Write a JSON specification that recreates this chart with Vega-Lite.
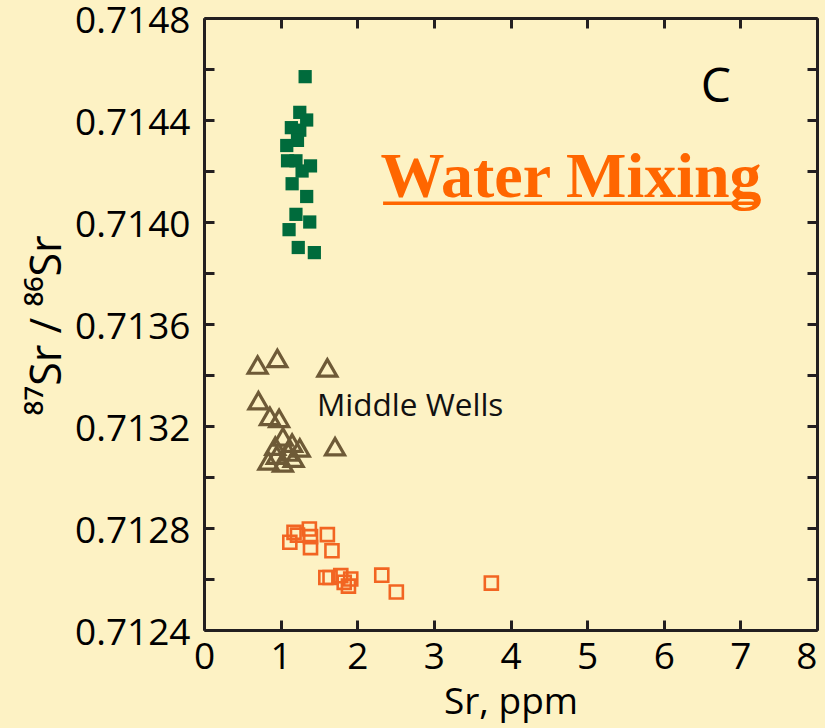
{
  "$schema": "https://vega.github.io/schema/vega-lite/v6.json",
  "width": 613,
  "height": 612,
  "autosize": "none",
  "padding": {"left": 204, "top": 18, "right": 8, "bottom": 98},
  "background": "#FDF2C4",
  "config": {
    "view": {"stroke": null},
    "font": "Open Sans",
    "axis": {
      "grid": false,
      "domainColor": "#231F20",
      "domainWidth": 3,
      "tickColor": "#231F20",
      "tickWidth": 3,
      "tickSize": -10,
      "labelFont": "Open Sans",
      "labelFontSize": 37,
      "labelColor": "#000000",
      "labelOverlap": false,
      "titleFont": "Open Sans",
      "titleFontSize": 37,
      "titleFontWeight": "normal",
      "titleColor": "#000000"
    }
  },
  "data": {
    "values": [
      {"group": "upper", "sr": 1.32, "ratio": 0.71457},
      {"group": "upper", "sr": 1.25, "ratio": 0.71443},
      {"group": "upper", "sr": 1.34, "ratio": 0.7144},
      {"group": "upper", "sr": 1.14, "ratio": 0.71437},
      {"group": "upper", "sr": 1.25, "ratio": 0.71436},
      {"group": "upper", "sr": 1.22, "ratio": 0.71432},
      {"group": "upper", "sr": 1.08, "ratio": 0.7143},
      {"group": "upper", "sr": 1.09, "ratio": 0.71424},
      {"group": "upper", "sr": 1.2, "ratio": 0.71424},
      {"group": "upper", "sr": 1.39, "ratio": 0.71422},
      {"group": "upper", "sr": 1.28, "ratio": 0.7142},
      {"group": "upper", "sr": 1.15, "ratio": 0.71415},
      {"group": "upper", "sr": 1.34, "ratio": 0.7141},
      {"group": "upper", "sr": 1.2, "ratio": 0.71403},
      {"group": "upper", "sr": 1.38, "ratio": 0.714},
      {"group": "upper", "sr": 1.11, "ratio": 0.71397},
      {"group": "upper", "sr": 1.23, "ratio": 0.7139},
      {"group": "upper", "sr": 1.44, "ratio": 0.71388},
      {"group": "middle", "sr": 0.7, "ratio": 0.713439},
      {"group": "middle", "sr": 0.957, "ratio": 0.713465},
      {"group": "middle", "sr": 1.61, "ratio": 0.713428},
      {"group": "middle", "sr": 0.71, "ratio": 0.713299},
      {"group": "middle", "sr": 0.86, "ratio": 0.713238},
      {"group": "middle", "sr": 0.98, "ratio": 0.71323},
      {"group": "middle", "sr": 1.71, "ratio": 0.713119},
      {"group": "middle", "sr": 1.03, "ratio": 0.713157},
      {"group": "middle", "sr": 1.15, "ratio": 0.713133},
      {"group": "middle", "sr": 1.25, "ratio": 0.713114},
      {"group": "middle", "sr": 1.1, "ratio": 0.713098},
      {"group": "middle", "sr": 0.95, "ratio": 0.713086},
      {"group": "middle", "sr": 0.84, "ratio": 0.713063},
      {"group": "middle", "sr": 1.03, "ratio": 0.713055},
      {"group": "middle", "sr": 1.17, "ratio": 0.713074},
      {"group": "middle", "sr": 0.93, "ratio": 0.713121},
      {"group": "lower", "sr": 1.12, "ratio": 0.712744},
      {"group": "lower", "sr": 1.175, "ratio": 0.712783},
      {"group": "lower", "sr": 1.22, "ratio": 0.712772},
      {"group": "lower", "sr": 1.375, "ratio": 0.712796},
      {"group": "lower", "sr": 1.39, "ratio": 0.712766},
      {"group": "lower", "sr": 1.39, "ratio": 0.712723},
      {"group": "lower", "sr": 1.61, "ratio": 0.712774},
      {"group": "lower", "sr": 1.67, "ratio": 0.712711},
      {"group": "lower", "sr": 1.59, "ratio": 0.712606},
      {"group": "lower", "sr": 1.645, "ratio": 0.712606},
      {"group": "lower", "sr": 1.785, "ratio": 0.712613},
      {"group": "lower", "sr": 1.915, "ratio": 0.7126},
      {"group": "lower", "sr": 1.83, "ratio": 0.712587},
      {"group": "lower", "sr": 1.885, "ratio": 0.712572},
      {"group": "lower", "sr": 2.32, "ratio": 0.712615},
      {"group": "lower", "sr": 2.51, "ratio": 0.712549},
      {"group": "lower", "sr": 3.75, "ratio": 0.712584}
    ]
  },
  "layer": [
    {
      "transform": [{"filter": "datum.group === 'upper'"}],
      "mark": {"type": "point", "shape": "square", "filled": true, "color": "#006B3C", "size": 175, "opacity": 1},
      "encoding": {
        "x": {
          "field": "sr", "type": "quantitative",
          "scale": {"domain": [0, 8], "zero": false, "nice": false},
          "axis": {
            "orient": "bottom",
            "values": [0, 1, 2, 3, 4, 5, 6, 7, 8],
            "format": "d",
            "labelFlush": false,
            "labelAlign": {"condition": {"test": "datum.value == 8", "value": "right"}, "value": "center"},
            "labelPadding": 19,
            "title": "Sr, ppm",
            "titleBaseline": "alphabetic",
            "titleY": 83
          }
        },
        "y": {
          "field": "ratio", "type": "quantitative",
          "scale": {"domain": [0.7124, 0.7148], "zero": false, "nice": false},
          "axis": {
            "orient": "left",
            "values": [0.7124, 0.7126, 0.7128, 0.713, 0.7132, 0.7134, 0.7136, 0.7138, 0.714, 0.7142, 0.7144, 0.7146, 0.7148],
            "format": ".4f",
            "labelExpr": "round(datum.value * 10000) % 4 == 0 ? datum.label : ''",
            "labelPadding": 24,
            "labelOffset": 3,
            "title": "⁸⁷Sr / ⁸⁶Sr",
            "titleFontSize": 43,
            "titleAngle": -90,
            "titleX": -144,
            "titleY": 307,
            "titleAlign": "center",
            "titleBaseline": "alphabetic"
          }
        }
      }
    },
    {
      "transform": [{"filter": "datum.group === 'middle'"}],
      "mark": {"type": "point", "shape": "triangle-up", "filled": false, "stroke": "#6E5A37", "strokeWidth": 3.2, "size": 360, "opacity": 1},
      "encoding": {
        "x": {"field": "sr", "type": "quantitative", "axis": null},
        "y": {"field": "ratio", "type": "quantitative", "axis": null}
      }
    },
    {
      "transform": [{"filter": "datum.group === 'lower'"}],
      "mark": {"type": "point", "shape": "square", "filled": false, "stroke": "#F26522", "strokeWidth": 2.6, "size": 170, "opacity": 1},
      "encoding": {
        "x": {"field": "sr", "type": "quantitative", "axis": {"orient": "top", "values": [0, 1, 2, 3, 4, 5, 6, 7, 8], "labels": false, "title": null}},
        "y": {"field": "ratio", "type": "quantitative", "axis": {"orient": "right", "values": [0.7124, 0.7126, 0.7128, 0.713, 0.7132, 0.7134, 0.7136, 0.7138, 0.714, 0.7142, 0.7144, 0.7146, 0.7148], "labels": false, "title": null}}
      }
    },
    {
      "data": {"values": [{}]},
      "mark": {"type": "text", "text": "Middle Wells", "align": "left", "baseline": "alphabetic", "font": "Open Sans", "fontSize": 31.5, "color": "#111111"},
      "encoding": {
        "x": {"datum": 1.475, "type": "quantitative", "axis": null},
        "y": {"datum": 0.713239, "type": "quantitative", "axis": null}
      }
    },
    {
      "data": {"values": [{}]},
      "mark": {"type": "text", "text": "C", "align": "center", "baseline": "alphabetic", "font": "Open Sans", "fontSize": 48, "color": "#000000"},
      "encoding": {
        "x": {"datum": 6.68, "type": "quantitative", "axis": null},
        "y": {"datum": 0.714472, "type": "quantitative", "axis": null}
      }
    },
    {
      "data": {"values": [{}]},
      "mark": {"type": "text", "text": "Water Mixing", "align": "center", "baseline": "alphabetic", "font": "Liberation Serif", "fontWeight": "bold", "fontSize": 64, "color": "#FF6600"},
      "encoding": {
        "x": {"datum": 4.79, "type": "quantitative", "axis": null},
        "y": {"datum": 0.714097, "type": "quantitative", "axis": null}
      }
    },
    {
      "data": {"values": [{}]},
      "mark": {"type": "rule", "color": "#FF6600", "strokeWidth": 3.5},
      "encoding": {
        "x": {"datum": 2.337, "type": "quantitative", "axis": null},
        "x2": {"datum": 7.22},
        "y": {"datum": 0.714074, "type": "quantitative", "axis": null}
      }
    }
  ],
  "resolve": {"axis": {"x": "independent", "y": "independent"}}
}
